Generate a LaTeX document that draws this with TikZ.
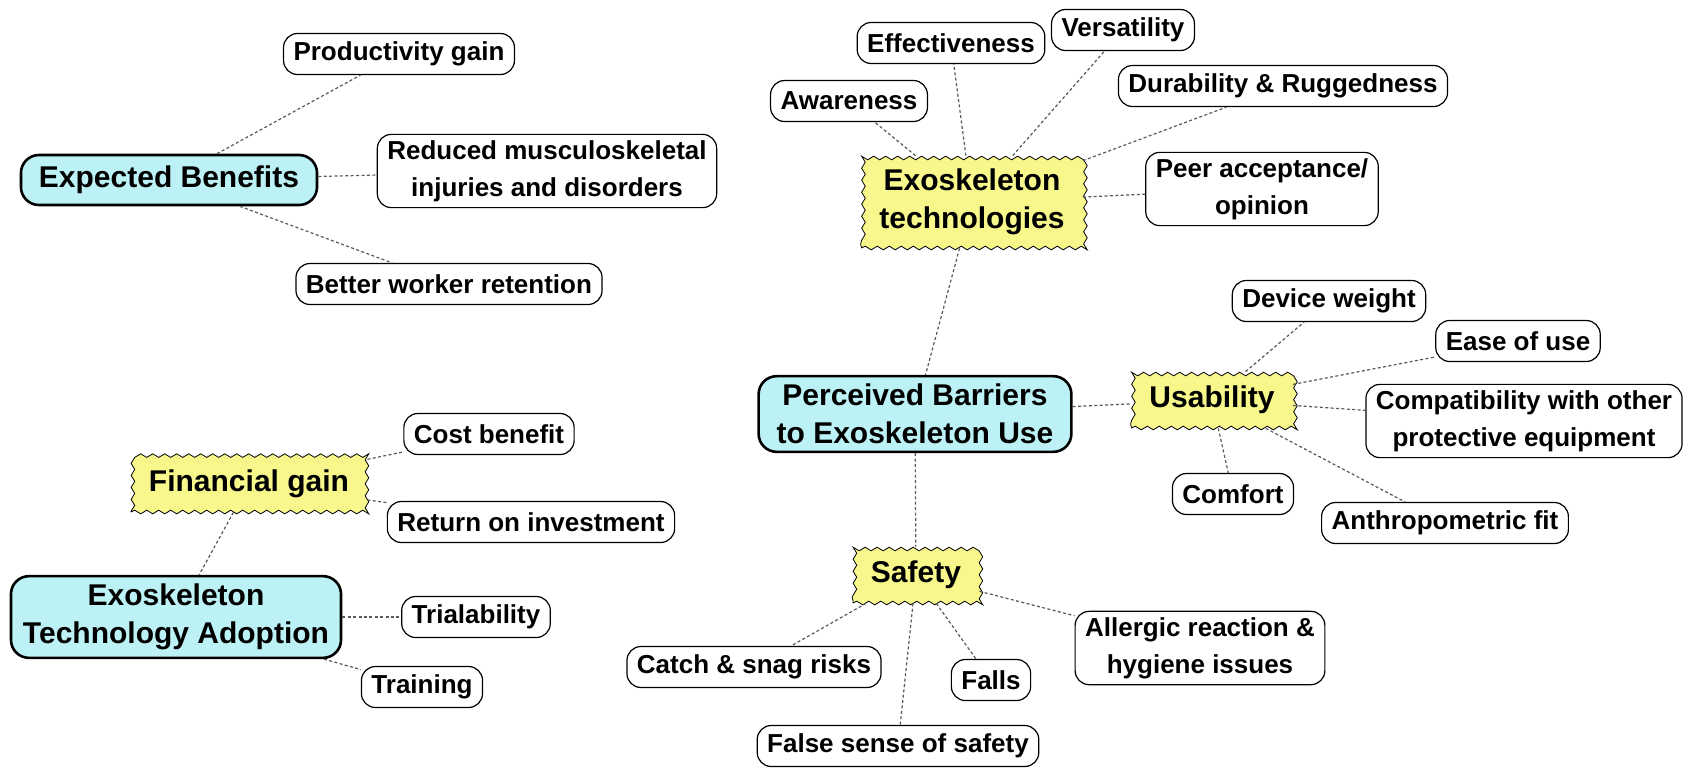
\documentclass[tikz,border=0pt]{standalone}
\usepackage{fontspec}
\setmainfont{Liberation Sans}
\usetikzlibrary{decorations.pathmorphing}
\definecolor{topicfill}{RGB}{188,242,245}
\definecolor{branchfill}{RGB}{247,247,140}
\tikzstyle{topic} = [rectangle, rounded corners=9pt, draw=black, line width=1.3pt, fill=topicfill, align=center, inner xsep=9pt, inner ysep=4pt, minimum height=25pt, font=\fontsize{15}{18.8}\selectfont\bfseries]
\tikzstyle{branch} = [rectangle, draw=black, line width=0.4pt, fill=branchfill, align=center, inner xsep=9pt, minimum height=28pt, decorate, decoration={snake, amplitude=0.9pt, segment length=6pt}, font=\fontsize{15}{18.8}\selectfont\bfseries]
\tikzstyle{leaf} = [rectangle, rounded corners=7pt, draw=black, line width=0.6pt, fill=white, align=center, inner xsep=5pt, inner ysep=3pt, minimum height=20.5pt, font=\fontsize{13}{18.5}\selectfont\bfseries]
\tikzstyle{link} = [black!65, line width=0.6pt, dash pattern=on 1.5pt off 1.2pt]

\begin{document}
\begin{tikzpicture}[x=0.5pt, y=-0.5pt]

\fill[white] (0,0) rectangle (1688,767);
\useasboundingbox (0,0) rectangle (1688,767);

% Expected benefits
\node (EB) [topic] at (169,180) {Expected Benefits};
\node (PG) [leaf] at (399,54) {Productivity gain};
\node (RM) [leaf] at (547,171) {Reduced musculoskeletal\\injuries and disorders};
\node (BW) [leaf] at (449,284) {Better worker retention};

% Exoskeleton technologies
\node (ET) [branch, minimum width=110pt, minimum height=46pt] at (972,202) {Exoskeleton\\technologies};
\node (AW) [leaf] at (849,101) {Awareness};
\node (EF) [leaf] at (951,43) {Effectiveness};
\node (VE) [leaf] at (1123,30) {Versatility};
\node (DR) [leaf] at (1283,86) {Durability \& Ruggedness};
\node (PA) [leaf] at (1262,189) {Peer acceptance/\\opinion};

% Perceived barriers (centre)
\node (PB) [topic] at (915,414) {Perceived Barriers\\to Exoskeleton Use};

% Usability
\node (US) [branch] at (1212,400) {Usability};
\node (DW) [leaf] at (1329,301) {Device weight};
\node (EU) [leaf] at (1518,341) {Ease of use};
\node (CO) [leaf] at (1524,421) {Compatibility with other\\protective equipment};
\node (CF) [leaf] at (1233,494) {Comfort};
\node (AF) [leaf] at (1445,523) {Anthropometric fit};

% Safety
\node (SA) [branch] at (916,575) {Safety};
\node (CS) [leaf] at (754,667) {Catch \& snag risks};
\node (FA) [leaf] at (991,680) {Falls};
\node (AL) [leaf] at (1200,648) {Allergic reaction \&\\hygiene issues};
\node (FS) [leaf] at (898,746) {False sense of safety};

% Technology adoption
\node (FG) [branch] at (249,484) {Financial gain};
\node (CB) [leaf] at (489,434) {Cost benefit};
\node (RI) [leaf] at (531,522) {Return on investment};
\node (TA) [topic, inner xsep=6pt] at (176,617) {Exoskeleton\\Technology Adoption};
\node (TR) [leaf] at (476,617) {Trialability};
\node (TN) [leaf] at (422,687) {Training};

% Connecting lines
\draw [link] (EB) -- (PG);
\draw [link] (EB) -- (RM);
\draw [link] (EB) -- (BW);

\draw [link] (ET) -- (AW);
\draw [link] (ET) -- (EF);
\draw [link] (ET) -- (VE);
\draw [link] (ET) -- (DR);
\draw [link] (ET) -- (PA);
\draw [link] (ET) -- (PB);

\draw [link] (PB) -- (US);
\draw [link] (PB) -- (SA);

\draw [link] (US) -- (DW);
\draw [link] (US) -- (EU);
\draw [link] (US) -- (CO);
\draw [link] (US) -- (CF);
\draw [link] (US) -- (AF);

\draw [link] (SA) -- (CS);
\draw [link] (SA) -- (FA);
\draw [link] (SA) -- (AL);
\draw [link] (SA) -- (FS);

\draw [link] (FG) -- (CB);
\draw [link] (FG) -- (RI);
\draw [link] (FG) -- (TA);
\draw [link] (TA) -- (TR);
\draw [link] (TA) -- (TN);

\end{tikzpicture}
\end{document}
